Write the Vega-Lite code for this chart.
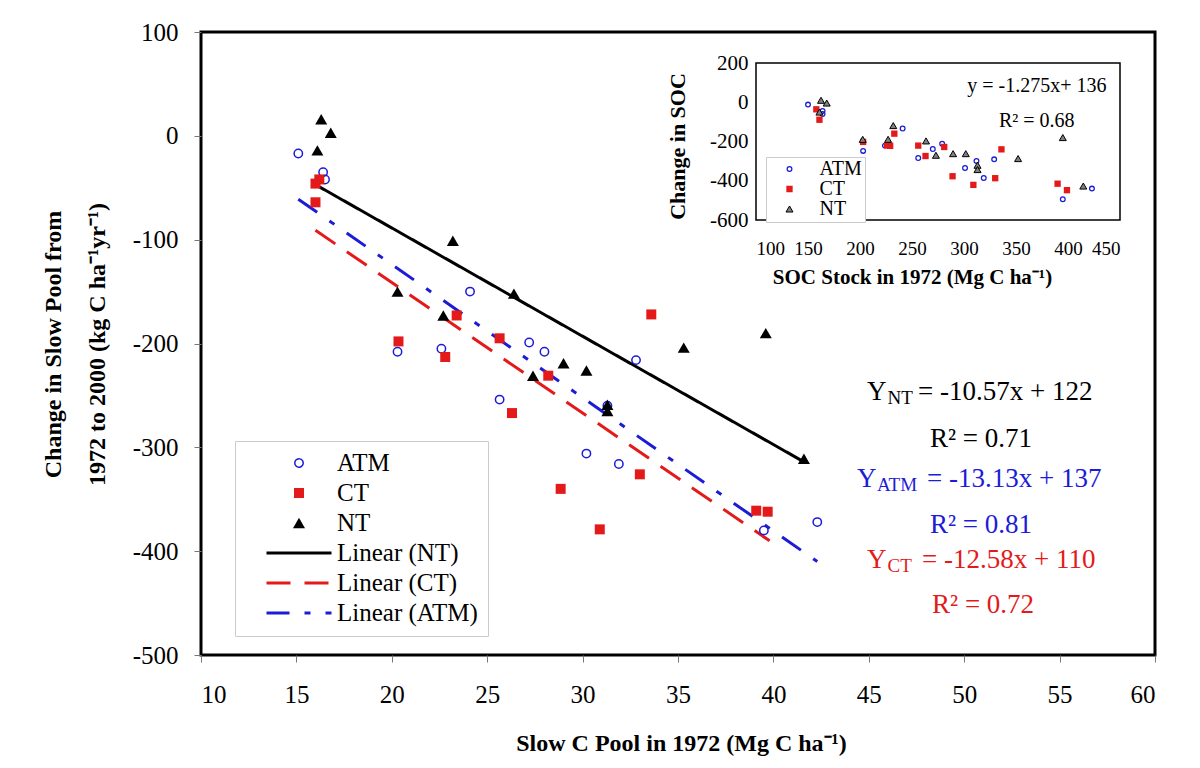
{
  "$schema": "https://vega.github.io/schema/vega-lite/v6.json",
  "width": 954,
  "height": 623,
  "autosize": {"type": "none"},
  "padding": {"left": 201, "top": 32, "right": 45, "bottom": 113},
  "background": "white",
  "config": {
    "font": "Liberation Serif",
    "view": {"stroke": "black", "strokeWidth": 3},
    "axis": {"grid": false, "labelFont": "Liberation Serif", "titleFont": "Liberation Serif", "labelColor": "black", "titleColor": "black"},
    "legend": {"labelFont": "Liberation Serif", "labelColor": "black"},
    "text": {"font": "Liberation Serif"}
  },
  "datasets": {
    "main": [
      {"x": 15.1, "y": -17, "series": "ATM"}, {"x": 16.4, "y": -35, "series": "ATM"}, {"x": 16.5, "y": -42, "series": "ATM"},
      {"x": 20.3, "y": -208, "series": "ATM"}, {"x": 22.6, "y": -205, "series": "ATM"}, {"x": 24.1, "y": -150, "series": "ATM"},
      {"x": 25.65, "y": -254, "series": "ATM"}, {"x": 27.2, "y": -199, "series": "ATM"}, {"x": 28.0, "y": -208, "series": "ATM"},
      {"x": 30.2, "y": -306, "series": "ATM"}, {"x": 31.3, "y": -260, "series": "ATM"}, {"x": 31.9, "y": -316, "series": "ATM"},
      {"x": 32.8, "y": -216, "series": "ATM"}, {"x": 39.5, "y": -380, "series": "ATM"}, {"x": 42.3, "y": -372, "series": "ATM"},
      {"x": 16.0, "y": -46, "series": "CT"}, {"x": 16.2, "y": -42, "series": "CT"}, {"x": 16.0, "y": -64, "series": "CT"},
      {"x": 20.35, "y": -198, "series": "CT"}, {"x": 22.8, "y": -213, "series": "CT"}, {"x": 23.4, "y": -173, "series": "CT"},
      {"x": 25.65, "y": -195, "series": "CT"}, {"x": 26.3, "y": -267, "series": "CT"}, {"x": 28.2, "y": -231, "series": "CT"},
      {"x": 28.85, "y": -340, "series": "CT"}, {"x": 30.9, "y": -379, "series": "CT"}, {"x": 33.0, "y": -326, "series": "CT"},
      {"x": 33.6, "y": -172, "series": "CT"}, {"x": 39.1, "y": -361, "series": "CT"}, {"x": 39.7, "y": -362, "series": "CT"},
      {"x": 16.3, "y": 16, "series": "NT"}, {"x": 16.8, "y": 3, "series": "NT"}, {"x": 16.1, "y": -14, "series": "NT"},
      {"x": 20.3, "y": -150, "series": "NT"}, {"x": 22.7, "y": -173, "series": "NT"}, {"x": 23.2, "y": -101, "series": "NT"},
      {"x": 26.4, "y": -152, "series": "NT"}, {"x": 27.4, "y": -231, "series": "NT"}, {"x": 29.0, "y": -219, "series": "NT"},
      {"x": 30.2, "y": -226, "series": "NT"}, {"x": 31.3, "y": -259, "series": "NT"}, {"x": 31.3, "y": -265, "series": "NT"},
      {"x": 35.3, "y": -204, "series": "NT"}, {"x": 39.6, "y": -190, "series": "NT"}, {"x": 41.6, "y": -311, "series": "NT"}
    ],
    "fits": [
      {"x": 16.0, "y": -47, "series": "Linear (NT)"}, {"x": 41.6, "y": -314, "series": "Linear (NT)"},
      {"x": 16.0, "y": -91, "series": "Linear (CT)"}, {"x": 39.8, "y": -390, "series": "Linear (CT)"},
      {"x": 15.1, "y": -61, "series": "Linear (ATM)"}, {"x": 42.3, "y": -410, "series": "Linear (ATM)"}
    ],
    "eqmain": [
      {"x": 44.91, "y": -254.5, "text": "Y", "group": "NT"},
      {"x": 47.58, "y": -254.5, "text": "= -10.57x + 122", "group": "NT"},
      {"x": 44.38, "y": -338.3, "text": "Y", "group": "ATM"},
      {"x": 48.05, "y": -338.3, "text": "= -13.13x + 137", "group": "ATM"},
      {"x": 44.91, "y": -416.4, "text": "Y", "group": "CT"},
      {"x": 47.79, "y": -416.4, "text": "= -12.58x + 110", "group": "CT"}
    ],
    "eqsub": [
      {"x": 45.98, "y": -258.5, "text": "NT", "group": "NT"},
      {"x": 45.43, "y": -342.3, "text": "ATM", "group": "ATM"},
      {"x": 45.98, "y": -420.4, "text": "CT", "group": "CT"}
    ],
    "eqr2": [
      {"x": 50.88, "y": -299.8, "text": "R² = 0.71", "group": "NT"},
      {"x": 50.88, "y": -382.7, "text": "R² = 0.81", "group": "ATM"},
      {"x": 50.99, "y": -459.5, "text": "R² = 0.72", "group": "CT"}
    ],
    "inset": [
      {"soc": 150, "change": -12, "treatment": "ATM"}, {"soc": 164, "change": -44, "treatment": "ATM"}, {"soc": 164, "change": -60, "treatment": "ATM"},
      {"soc": 203, "change": -248, "treatment": "ATM"}, {"soc": 224, "change": -221, "treatment": "ATM"}, {"soc": 241, "change": -134, "treatment": "ATM"},
      {"soc": 256, "change": -284, "treatment": "ATM"}, {"soc": 270, "change": -238, "treatment": "ATM"}, {"soc": 279, "change": -211, "treatment": "ATM"},
      {"soc": 301, "change": -335, "treatment": "ATM"}, {"soc": 312, "change": -299, "treatment": "ATM"}, {"soc": 319, "change": -386, "treatment": "ATM"},
      {"soc": 329, "change": -291, "treatment": "ATM"}, {"soc": 395, "change": -494, "treatment": "ATM"}, {"soc": 423, "change": -440, "treatment": "ATM"},
      {"soc": 158, "change": -36, "treatment": "CT"}, {"soc": 161, "change": -89, "treatment": "CT"}, {"soc": 203, "change": -202, "treatment": "CT"},
      {"soc": 226, "change": -220, "treatment": "CT"}, {"soc": 229, "change": -222, "treatment": "CT"}, {"soc": 233, "change": -160, "treatment": "CT"},
      {"soc": 256, "change": -221, "treatment": "CT"}, {"soc": 263, "change": -274, "treatment": "CT"}, {"soc": 281, "change": -228, "treatment": "CT"},
      {"soc": 289, "change": -377, "treatment": "CT"}, {"soc": 309, "change": -421, "treatment": "CT"}, {"soc": 330, "change": -387, "treatment": "CT"},
      {"soc": 336, "change": -240, "treatment": "CT"}, {"soc": 390, "change": -415, "treatment": "CT"}, {"soc": 399, "change": -448, "treatment": "CT"},
      {"soc": 162.5, "change": 10, "treatment": "NT"}, {"soc": 168, "change": -4, "treatment": "NT"}, {"soc": 161, "change": -50, "treatment": "NT"},
      {"soc": 202.6, "change": -189, "treatment": "NT"}, {"soc": 227, "change": -189, "treatment": "NT"}, {"soc": 232, "change": -119, "treatment": "NT"},
      {"soc": 263.5, "change": -197, "treatment": "NT"}, {"soc": 273, "change": -270, "treatment": "NT"}, {"soc": 289.5, "change": -262, "treatment": "NT"},
      {"soc": 301.7, "change": -262, "treatment": "NT"}, {"soc": 313, "change": -321, "treatment": "NT"}, {"soc": 313, "change": -343, "treatment": "NT"},
      {"soc": 352, "change": -287, "treatment": "NT"}, {"soc": 395, "change": -180, "treatment": "NT"}, {"soc": 414.7, "change": -427, "treatment": "NT"}
    ],
    "insetnotes": [
      {"soc": 370, "change": 52, "text": "y = -1.275x+ 136"},
      {"soc": 370, "change": -126, "text": "R² = 0.68"}
    ]
  },
  "layer": [
    {
      "layer": [
        {
          "data": {"name": "fits"},
          "mark": {"type": "line", "strokeWidth": 3},
          "encoding": {
            "x": {"field": "x", "type": "quantitative", "scale": {"domain": [10, 60], "nice": false, "zero": false},
              "axis": {"values": [10, 15, 20, 25, 30, 35, 40, 45, 50, 55, 60], "domain": false, "tickSize": 7, "tickColor": "#777777", "labelFont": "Liberation Serif", "labelFontSize": 25, "labelPadding": 20,
                "title": "Slow C Pool in 1972 (Mg C ha⁻¹)", "titleFont": "Liberation Serif", "titleFontSize": 24, "titleFontWeight": "bold", "titleX": 480, "titleY": 95, "titleBaseline": "alphabetic", "titleAlign": "center"}},
            "y": {"field": "y", "type": "quantitative", "scale": {"domain": [-500, 100], "nice": false, "zero": false},
              "axis": {"values": [-500, -400, -300, -200, -100, 0, 100], "labelExpr": "replace(datum.label, '−', '-')", "domain": false, "tickSize": 7, "tickColor": "#777777", "labelFont": "Liberation Serif", "labelFontSize": 25, "labelPadding": 16,
                "title": ["Change in Slow Pool from", "1972 to 2000 (kg C ha⁻¹yr⁻¹)"], "titleFont": "Liberation Serif", "titleFontSize": 24, "titleFontWeight": "bold", "titleX": -141, "titleY": 312, "titleAngle": -90, "titleBaseline": "alphabetic", "titleAlign": "center", "titleLineHeight": 44}},
            "detail": {"field": "series", "type": "nominal"},
            "stroke": {"field": "series", "type": "nominal",
              "scale": {"domain": ["ATM", "CT", "NT", "Linear (NT)", "Linear (CT)", "Linear (ATM)"], "range": ["#1c1cd6", "#e41a1a", "#000000", "#000000", "#e41a1a", "#1c1cd6"]},
              "legend": {"title": null, "orient": "none", "legendX": 34, "legendY": 409, "padding": 10, "strokeColor": "#cccccc", "fillColor": "white", "labelFont": "Liberation Serif", "labelFontSize": 25, "clipHeight": 24, "rowPadding": 5, "symbolOffset": 20, "labelOffset": 4, "labelLimit": 400}},
            "strokeDash": {"field": "series", "type": "nominal",
              "scale": {"domain": ["ATM", "CT", "NT", "Linear (NT)", "Linear (CT)", "Linear (ATM)"], "range": [[1, 0], [1, 0], [1, 0], [1, 0], [24, 14], [23, 15, 6, 15]]},
              "legend": {"title": null, "orient": "none", "legendX": 34, "legendY": 409, "padding": 10, "strokeColor": "#cccccc", "fillColor": "white", "labelFont": "Liberation Serif", "labelFontSize": 25, "clipHeight": 24, "rowPadding": 5, "symbolOffset": 20, "labelOffset": 4, "labelLimit": 400}}
          }
        },
        {
          "data": {"name": "main"},
          "mark": {"type": "point", "opacity": 1},
          "encoding": {
            "x": {"field": "x", "type": "quantitative", "scale": {"domain": [10, 60], "nice": false, "zero": false}},
            "y": {"field": "y", "type": "quantitative", "scale": {"domain": [-500, 100], "nice": false, "zero": false}},
            "stroke": {"field": "series", "type": "nominal",
              "scale": {"domain": ["ATM", "CT", "NT", "Linear (NT)", "Linear (CT)", "Linear (ATM)"], "range": ["#1c1cd6", "#e41a1a", "#000000", "#000000", "#e41a1a", "#1c1cd6"]}},
            "fill": {"field": "series", "type": "nominal",
              "scale": {"domain": ["ATM", "CT", "NT", "Linear (NT)", "Linear (CT)", "Linear (ATM)"], "range": ["transparent", "#e41a1a", "#000000", "transparent", "transparent", "transparent"]},
              "legend": {"title": null, "orient": "none", "legendX": 34, "legendY": 409, "padding": 10, "strokeColor": "#cccccc", "fillColor": "white", "labelFont": "Liberation Serif", "labelFontSize": 25, "clipHeight": 24, "rowPadding": 5, "symbolOffset": 20, "labelOffset": 4, "labelLimit": 400}},
            "shape": {"field": "series", "type": "nominal",
              "scale": {"domain": ["ATM", "CT", "NT", "Linear (NT)", "Linear (CT)", "Linear (ATM)"], "range": ["circle", "square", "triangle-up", "stroke", "stroke", "stroke"]},
              "legend": {"title": null, "orient": "none", "legendX": 34, "legendY": 409, "padding": 10, "strokeColor": "#cccccc", "fillColor": "white", "labelFont": "Liberation Serif", "labelFontSize": 25, "clipHeight": 24, "rowPadding": 5, "symbolOffset": 20, "labelOffset": 4, "labelLimit": 400}},
            "size": {"field": "series", "type": "nominal",
              "scale": {"type": "ordinal", "domain": ["ATM", "CT", "NT", "Linear (NT)", "Linear (CT)", "Linear (ATM)"], "range": [70, 100, 144, 4225, 4225, 4225]},
              "legend": {"title": null, "orient": "none", "legendX": 34, "legendY": 409, "padding": 10, "strokeColor": "#cccccc", "fillColor": "white", "labelFont": "Liberation Serif", "labelFontSize": 25, "clipHeight": 24, "rowPadding": 5, "symbolOffset": 20, "labelOffset": 4, "labelLimit": 400}},
            "strokeWidth": {"field": "series", "type": "nominal",
              "scale": {"type": "ordinal", "domain": ["ATM", "CT", "NT", "Linear (NT)", "Linear (CT)", "Linear (ATM)"], "range": [1.5, 0, 0, 3, 3, 3]},
              "legend": {"title": null, "orient": "none", "legendX": 34, "legendY": 409, "padding": 10, "strokeColor": "#cccccc", "fillColor": "white", "labelFont": "Liberation Serif", "labelFontSize": 25, "clipHeight": 24, "rowPadding": 5, "symbolOffset": 20, "labelOffset": 4, "labelLimit": 400}}
          }
        },
        {
          "data": {"name": "eqmain"},
          "mark": {"type": "text", "fontSize": 27, "align": "left", "baseline": "alphabetic", "font": "Liberation Serif"},
          "encoding": {
            "x": {"field": "x", "type": "quantitative", "scale": {"domain": [10, 60], "nice": false, "zero": false}},
            "y": {"field": "y", "type": "quantitative", "scale": {"domain": [-500, 100], "nice": false, "zero": false}},
            "text": {"field": "text"},
            "color": {"field": "group", "type": "nominal", "scale": {"domain": ["NT", "ATM", "CT"], "range": ["#000000", "#1c1cd6", "#e41a1a"]}, "legend": null}
          }
        },
        {
          "data": {"name": "eqsub"},
          "mark": {"type": "text", "fontSize": 19, "align": "left", "baseline": "alphabetic", "font": "Liberation Serif"},
          "encoding": {
            "x": {"field": "x", "type": "quantitative", "scale": {"domain": [10, 60], "nice": false, "zero": false}},
            "y": {"field": "y", "type": "quantitative", "scale": {"domain": [-500, 100], "nice": false, "zero": false}},
            "text": {"field": "text"},
            "color": {"field": "group", "type": "nominal", "scale": {"domain": ["NT", "ATM", "CT"], "range": ["#000000", "#1c1cd6", "#e41a1a"]}, "legend": null}
          }
        },
        {
          "data": {"name": "eqr2"},
          "mark": {"type": "text", "fontSize": 27, "align": "center", "baseline": "alphabetic", "font": "Liberation Serif"},
          "encoding": {
            "x": {"field": "x", "type": "quantitative", "scale": {"domain": [10, 60], "nice": false, "zero": false}},
            "y": {"field": "y", "type": "quantitative", "scale": {"domain": [-500, 100], "nice": false, "zero": false}},
            "text": {"field": "text"},
            "color": {"field": "group", "type": "nominal", "scale": {"domain": ["NT", "ATM", "CT"], "range": ["#000000", "#1c1cd6", "#e41a1a"]}, "legend": null}
          }
        }
      ]
    },
    {
      "layer": [
        {
          "data": {"values": [{}]},
          "mark": {"type": "rect", "fill": "white", "stroke": "black", "strokeWidth": 1.5},
          "encoding": {
            "x": {"datum": 100, "type": "quantitative", "scale": {"domain": [100, 450], "range": [555, 919], "nice": false, "zero": false},
              "axis": {"orient": "bottom", "offset": -435, "values": [100, 150, 200, 250, 300, 350, 400, 450], "domain": false, "tickSize": 0, "labelPadding": 19, "labelFont": "Liberation Serif", "labelFontSize": 19,
                "title": "SOC Stock in 1972 (Mg C ha⁻¹)", "titleFont": "Liberation Serif", "titleFontSize": 21, "titleFontWeight": "bold", "titleX": 711, "titleY": 63, "titleBaseline": "alphabetic", "titleAlign": "center"}},
            "x2": {"datum": 450},
            "y": {"datum": -600, "type": "quantitative", "scale": {"domain": [-600, 200], "range": [188, 31], "nice": false, "zero": false},
              "axis": {"orient": "left", "offset": -555, "values": [-600, -400, -200, 0, 200], "labelExpr": "replace(datum.label, '−', '-')", "domain": false, "tickSize": 0, "labelPadding": 8, "labelFont": "Liberation Serif", "labelFontSize": 21,
                "title": "Change in SOC", "titleFont": "Liberation Serif", "titleFontSize": 22, "titleFontWeight": "bold", "titleX": -72, "titleY": 114, "titleAngle": -90, "titleBaseline": "alphabetic", "titleAlign": "center"}},
            "y2": {"datum": 200}
          }
        },
        {
          "data": {"name": "inset"},
          "mark": {"type": "point", "opacity": 1},
          "encoding": {
            "x": {"field": "soc", "type": "quantitative", "scale": {"domain": [100, 450], "range": [555, 919], "nice": false, "zero": false}},
            "y": {"field": "change", "type": "quantitative", "scale": {"domain": [-600, 200], "range": [188, 31], "nice": false, "zero": false}},
            "stroke": {"field": "treatment", "type": "nominal", "scale": {"domain": ["ATM", "CT", "NT"], "range": ["#1c1cd6", "#e41a1a", "#000000"]},
              "legend": {"title": null, "orient": "none", "legendX": 565, "legendY": 125, "padding": 3, "strokeColor": "#cccccc", "fillColor": "white", "labelFont": "Liberation Serif", "labelFontSize": 20, "clipHeight": 18, "rowPadding": 0, "symbolOffset": 10.5, "labelOffset": 20}},
            "fill": {"field": "treatment", "type": "nominal", "scale": {"domain": ["ATM", "CT", "NT"], "range": ["transparent", "#e41a1a", "#808080"]},
              "legend": {"title": null, "orient": "none", "legendX": 565, "legendY": 125, "padding": 3, "strokeColor": "#cccccc", "fillColor": "white", "labelFont": "Liberation Serif", "labelFontSize": 20, "clipHeight": 18, "rowPadding": 0, "symbolOffset": 10.5, "labelOffset": 20}},
            "shape": {"field": "treatment", "type": "nominal", "scale": {"domain": ["ATM", "CT", "NT"], "range": ["circle", "square", "triangle-up"]},
              "legend": {"title": null, "orient": "none", "legendX": 565, "legendY": 125, "padding": 3, "strokeColor": "#cccccc", "fillColor": "white", "labelFont": "Liberation Serif", "labelFontSize": 20, "clipHeight": 18, "rowPadding": 0, "symbolOffset": 10.5, "labelOffset": 20}},
            "size": {"field": "treatment", "type": "nominal", "scale": {"type": "ordinal", "domain": ["ATM", "CT", "NT"], "range": [22, 40, 49]},
              "legend": {"title": null, "orient": "none", "legendX": 565, "legendY": 125, "padding": 3, "strokeColor": "#cccccc", "fillColor": "white", "labelFont": "Liberation Serif", "labelFontSize": 20, "clipHeight": 18, "rowPadding": 0, "symbolOffset": 10.5, "labelOffset": 20}},
            "strokeWidth": {"field": "treatment", "type": "nominal", "scale": {"type": "ordinal", "domain": ["ATM", "CT", "NT"], "range": [1.3, 0, 1]},
              "legend": {"title": null, "orient": "none", "legendX": 565, "legendY": 125, "padding": 3, "strokeColor": "#cccccc", "fillColor": "white", "labelFont": "Liberation Serif", "labelFontSize": 20, "clipHeight": 18, "rowPadding": 0, "symbolOffset": 10.5, "labelOffset": 20}}
          }
        },
        {
          "data": {"name": "insetnotes"},
          "mark": {"type": "text", "fontSize": 20, "align": "center", "baseline": "alphabetic", "font": "Liberation Serif", "color": "black"},
          "encoding": {
            "x": {"field": "soc", "type": "quantitative", "scale": {"domain": [100, 450], "range": [555, 919], "nice": false, "zero": false}},
            "y": {"field": "change", "type": "quantitative", "scale": {"domain": [-600, 200], "range": [188, 31], "nice": false, "zero": false}},
            "text": {"field": "text"}
          }
        }
      ]
    }
  ],
  "resolve": {
    "scale": {"x": "independent", "y": "independent", "fill": "independent", "stroke": "independent", "shape": "independent", "size": "independent", "strokeWidth": "independent", "strokeDash": "independent", "color": "independent"},
    "axis": {"x": "independent", "y": "independent"},
    "legend": {"fill": "independent", "stroke": "independent", "shape": "independent", "size": "independent", "strokeWidth": "independent", "strokeDash": "independent", "color": "independent"}
  }
}
